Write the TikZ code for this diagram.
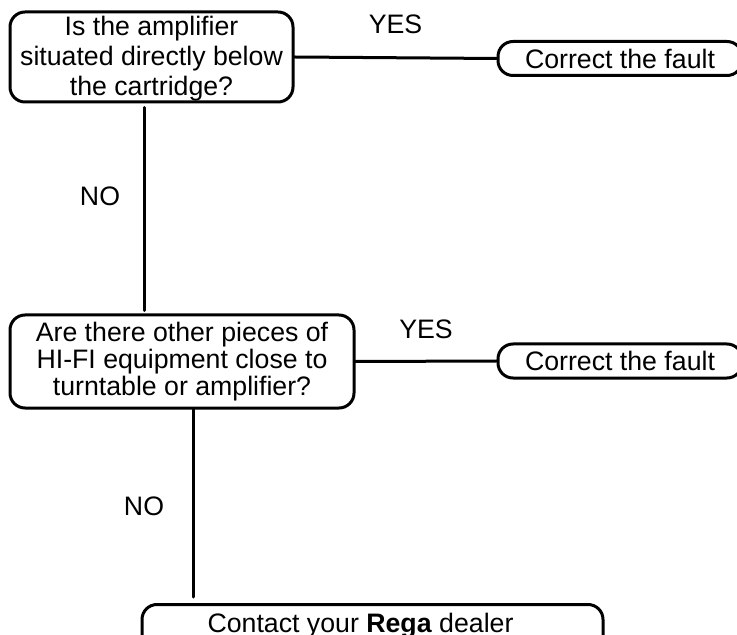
\documentclass[tikz,border=0pt]{standalone}
\usepackage{fontspec}
\setmainfont{Liberation Sans}
\usetikzlibrary{positioning}

\tikzset{
  flow/.style={line width=1.5pt, line cap=round},
  query/.style={draw, flow, rounded corners=7.5pt, align=center, inner sep=0pt},
  remedy/.style={draw, flow, rounded corners=7.5pt, inner sep=0pt,
    minimum width=122pt, minimum height=17pt}
}

\begin{document}
\begin{tikzpicture}[x=0.5pt, y=-0.5pt,
    every node/.style={font=\fontsize{13.35}{15}\selectfont}]
  \useasboundingbox (0,0) rectangle (737,635);
  \clip (0,0) rectangle (737,635);
  % Questions
  \node[query, minimum width=141.5pt, minimum height=45pt, text depth=1.2pt] (q1) at (151.5,57)
    {Is the amplifier\\situated directly below\\the cartridge?};
  \node[query, minimum width=172pt, minimum height=46.5pt,
    font=\fontsize{13.35}{13.6}\selectfont] (q2) at (182,361.5)
    {Are there other pieces of\\HI-FI equipment close to\\turntable or amplifier?};
  % Outcomes
  \node[remedy] (fix1) at (620,58.5) {Correct the fault};
  \node[remedy] (fix2) at (620,361) {Correct the fault};
  \node[remedy, minimum width=230.5pt, minimum height=24pt, text height=9.7pt,
    text depth=6pt, anchor=north] (dealer) at (372.5,603)
    {Contact your \textbf{Rega} dealer\hspace*{12pt}};
  % YES branches
  \draw[flow] (q1.east) -- (fix1.west) node[midway, yshift=16.5pt] {YES};
  \draw[flow] (q2.east) -- (fix2.west) node[midway, yshift=16pt] {YES};
  % NO branches
  \coordinate (n1) at ([xshift=-3.75pt]q1.south);
  \coordinate (n2) at ([xshift=5.5pt]q2.south);
  \draw[flow, shorten <=2pt, shorten >=1.5pt] (n1) -- (n1 |- q2.north)
    node[midway, xshift=-22pt, yshift=6pt] {NO};
  \draw[flow, shorten >=3pt] (n2) -- (n2 |- dealer.north)
    node[midway, xshift=-24.5pt] {NO};
\end{tikzpicture}
\end{document}
